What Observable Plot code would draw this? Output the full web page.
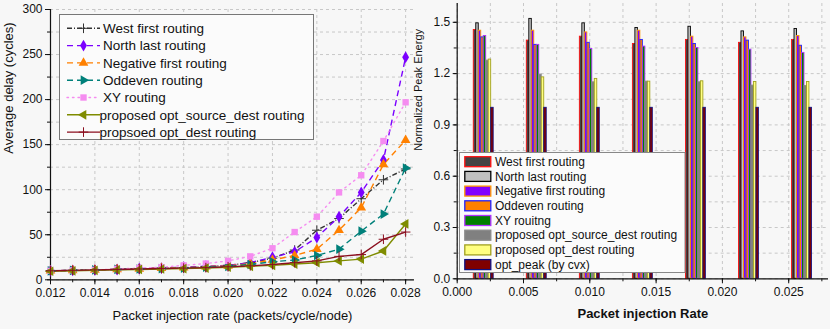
<!DOCTYPE html>
<html><head><meta charset="utf-8">
<script src="https://cdn.jsdelivr.net/npm/d3@7"></script>
<script src="https://cdn.jsdelivr.net/npm/@observablehq/plot@0.6"></script>
<style>
body{margin:0;background:#f7f7f7;font-family:"Liberation Sans",Arial,sans-serif;}
#wrap{position:relative;width:830px;height:329px;overflow:hidden;background:#f7f7f7}
#left{position:absolute;left:0;top:0}
#right{position:absolute;left:410px;top:0}
svg{background:transparent;overflow:visible}
</style></head><body>
<div id="wrap"><div id="right"></div><div id="left"></div></div>
<script>
// ---------- Left chart data ----------
const rates = [0.012,0.013,0.014,0.015,0.016,0.017,0.018,0.019,0.020,0.021,0.022,0.023,0.024,0.025,0.026,0.027,0.028];
const westFirst   = [10,10.5,11,11.5,12,13,13.5,14.5,16,19,24,33,55,68,90,111,123];
const northLast   = [10,10.5,11,11.5,12.5,13,14,15,16,19,25,31,47,70,97,133,247];
const negFirst    = [10,10.5,11,11.5,12,13,13.5,14.5,15.5,18,22,27,34,55,80,128,155];
const oddEven     = [10,10.5,11,11.5,12,12.5,13,14,15,17,20,22,27,34,54,73,124];
const xyRouting   = [10,10.5,11,12,13,14,16,18,21,26,35,53,70,97,116,154,197];
const optSrcDest  = [9.5,10,10.5,11,11.5,12,12.5,13,14,15,16,17.5,19,21,23,32,62];
const optDest     = [10,10.5,11,11.5,12,12.5,13,13.5,14.5,15.5,17,19,21,26,28,45,53];
const lineNames = ["West first routing","North last routing","Negative first routing","Oddeven routing","XY routing","proposed opt_source_dest routing","propsoed opt_dest routing"];
const lineValues = [westFirst,northLast,negFirst,oddEven,xyRouting,optSrcDest,optDest];
const yTicksLeft = [0,50,100,150,200,250,300];
const xTicksLeft = [0.012,0.014,0.016,0.018,0.020,0.022,0.024,0.026,0.028];

// styles
const lineColors = ["#333333","#7b00ff","#ff8000","#00807a","#f58cf0","#7f8c00","#8b0f1f"];
const lineDash = ["5,2,1,2","6,4","6,4","6,4","1.5,4","none","none"];
const lineSym = ["plus","diamond","triangle","triangle","square","triangle","plus"];
const symRot = [0,0,0,90,0,-90,0];
const symFilled = [false,true,true,true,true,true,false];

// ---------- Right chart data ----------
const groups = [0.002,0.006,0.010,0.014,0.018,0.022,0.026];
const eWestFirst = [1.455,1.393,1.416,1.373,1.397,1.380,1.397];
const eNorthLast = [1.494,1.520,1.494,1.467,1.474,1.447,1.461];
const eNegFirst  = [1.451,1.451,1.441,1.451,1.416,1.412,1.420];
const eOddEven   = [1.412,1.368,1.380,1.397,1.373,1.393,1.363];
const eXY        = [1.420,1.368,1.344,1.358,1.350,1.340,1.321];
const eOptSD     = [1.276,1.194,1.149,1.153,1.149,1.130,1.128];
const eOptD      = [1.282,1.178,1.169,1.153,1.155,1.151,1.151];
const ePeak      = [1.0,1.0,1.0,1.0,1.0,1.0,1.0];
const barNames = ["West first routing","North last routing","Negative first routing","Oddeven routing","XY rouitng","proposed opt_source_dest routing","proposed opt_dest routing","opt_peak (by cvx)"];
const barValues = [eWestFirst,eNorthLast,eNegFirst,eOddEven,eXY,eOptSD,eOptD,ePeak];
const yTicksRight = [0,0.3,0.6,0.9,1.2,1.5];
const xTicksRight = [0,0.005,0.010,0.015,0.020,0.025];

const barFill = ["#444444","#c0c0c0","#8000ff","#ff8000","#008000","#808080","#ffff80","#800000"];
const barStroke = ["#ff1010","#000000","#ff9900","#2020ff","#b030ff","#8a8a8a","#a0a020","#101080"];

const FONT = '"Liberation Sans", Arial, sans-serif';

// ---------- Left chart ----------
const rows = [];
lineNames.forEach((n,i)=>lineValues[i].forEach((v,j)=>rows.push({s:i,x:rates[j],y:v})));
const minorX = d3.range(12,29).map(d=>d/1000);
const minorY = d3.range(0,301,25);

const leftMarks = [
  Plot.gridY(minorY,{stroke:"#c8c8c8",strokeOpacity:1,strokeDasharray:"3,3"}),
  Plot.gridX(xTicksLeft,{stroke:"#c8c8c8",strokeOpacity:1,strokeDasharray:"3,3"}),
  Plot.axisX(minorX,{tickSize:3,tickFormat:()=>"" ,stroke:"#111",label:null}),
  Plot.axisX(xTicksLeft,{tickSize:5,tickPadding:4,tickFormat:d3.format(".3f"),fontSize:12,fill:"#111",stroke:"#111",label:null}),
  Plot.axisY(minorY,{tickSize:3,tickFormat:()=>"",stroke:"#111",label:null}),
  Plot.axisY(yTicksLeft,{tickSize:5,tickPadding:3,fontSize:12,fill:"#111",stroke:"#111",label:null}),
  Plot.ruleY([0],{stroke:"#111",strokeWidth:1.2}),
  Plot.ruleX([0.012],{stroke:"#111",strokeWidth:1.2}),
];
lineNames.forEach((n,i)=>{
  const d = rows.filter(r=>r.s===i);
  leftMarks.push(Plot.line(d,{x:"x",y:"y",stroke:lineColors[i],strokeWidth:1.4,strokeDasharray:lineDash[i],strokeLinecap:i===4?"round":"butt"}));
});
const symR = i => lineSym[i]==="plus" ? 3.2 : 3.6;
lineNames.forEach((n,i)=>{
  const d = rows.filter(r=>r.s===i);
  leftMarks.push(Plot.dot(d,{x:"x",y:"y",symbol:lineSym[i],rotate:symRot[i],r:symR(i),
    fill:symFilled[i]?lineColors[i]:"none",stroke:symFilled[i]?"none":lineColors[i],strokeWidth:1}));
});
leftMarks.push(Plot.text(["Packet injection rate (packets/cycle/node)"],{frameAnchor:"bottom",dy:36,fontSize:13,fill:"#111",lineAnchor:"middle"}));
leftMarks.push(Plot.text(["Average delay (cycles)"],{frameAnchor:"left",dx:-42,dy:9,rotate:-90,fontSize:13,fill:"#111",lineAnchor:"middle"}));

const left = Plot.plot({
  width:420,height:329,marginLeft:50,marginRight:6,marginTop:9,marginBottom:49.7,
  style:{background:"transparent",fontFamily:FONT,fontSize:"12px",color:"#111",overflow:"visible"},
  x:{domain:[0.012,0.0284],label:null},y:{domain:[0,300],label:null},
  marks:leftMarks
});
document.getElementById("left").appendChild(left);

// left legend
{
  const svg = d3.select(left);
  const g = svg.append("g").attr("font-family",FONT).attr("font-size",13.5).attr("text-anchor","start");
  g.append("rect").attr("x",59.5).attr("y",14.5).attr("width",254).attr("height",125)
    .attr("fill","#fbfbfb").attr("stroke","#777").attr("stroke-width",1);
  lineNames.forEach((n,i)=>{
    const y = 28.3 + i*17.3;
    g.append("line").attr("x1",67).attr("x2",100).attr("y1",y).attr("y2",y)
      .attr("stroke",lineColors[i]).attr("stroke-width",1.4)
      .attr("stroke-dasharray",lineDash[i]==="none"?null:lineDash[i]).attr("stroke-linecap",i===4?"round":"butt");
    const type = {plus:d3.symbolPlus,diamond:d3.symbolDiamond,triangle:d3.symbolTriangle,square:d3.symbolSquare}[lineSym[i]];
    const r = symR(i);
    g.append("path").attr("d",d3.symbol(type, r*r*Math.PI)())
      .attr("transform",`translate(83.5,${y}) rotate(${symRot[i]})`)
      .attr("fill",symFilled[i]?lineColors[i]:"none").attr("stroke",symFilled[i]?"none":lineColors[i]);
    g.append("text").attr("x",i>=5?99.5:103).attr("y",y).attr("dy","0.35em").attr("fill","#111").text(n);
  });
}

// ---------- Right chart ----------
const bw = 0.0015/8;
const bars = [];
barNames.forEach((n,i)=>barValues[i].forEach((v,j)=>bars.push({s:i,x1:groups[j]-0.00075+i*bw,x2:groups[j]-0.00075+(i+1)*bw,y:v})));
const gridYR = d3.range(0,11).map(d=>d*0.15);
const gridXR = d3.range(0,12).map(d=>d*0.0025);

const rightMarks = [
  Plot.gridY(gridYR,{stroke:"#c8c8c8",strokeOpacity:1,strokeDasharray:"3,3"}),
  Plot.gridX(gridXR,{stroke:"#c8c8c8",strokeOpacity:1,strokeDasharray:"3,3"}),
];
barNames.forEach((n,i)=>{
  rightMarks.push(Plot.rectY(bars.filter(b=>b.s===i),{x1:"x1",x2:"x2",y1:0,y2:"y",fill:barFill[i],stroke:barStroke[i],strokeWidth:0.9}));
});
rightMarks.push(
  Plot.axisX(gridXR,{tickSize:3,tickFormat:()=>"",stroke:"#111",label:null}),
  Plot.axisX(xTicksRight,{tickSize:5,tickPadding:4,tickFormat:d3.format(".3f"),fontSize:12,fill:"#111",stroke:"#111",label:null}),
  Plot.axisY(gridYR,{tickSize:3,tickFormat:()=>"",stroke:"#111",label:null}),
  Plot.axisY(yTicksRight,{tickSize:4,tickPadding:3,tickFormat:d3.format(".1f"),fontSize:12,fill:"#111",stroke:"#111",label:null}),
  Plot.ruleY([0],{stroke:"#111",strokeWidth:1.2}),
  Plot.ruleX([0],{stroke:"#111",strokeWidth:1.2}),
  Plot.text(["Packet injection Rate"],{frameAnchor:"bottom",dy:35,fontSize:13,fontWeight:"bold",fill:"#111",lineAnchor:"middle"}),
  Plot.text(["Normalized Peak Energy"],{frameAnchor:"left",dx:-38.7,dy:9.5,rotate:-90,fontSize:11,fill:"#111",lineAnchor:"middle"})
);
const right = Plot.plot({
  width:420,height:329,marginLeft:46.7,marginRight:2,marginTop:3,marginBottom:50.7,
  style:{background:"transparent",fontFamily:FONT,fontSize:"12px",color:"#111",overflow:"visible"},
  x:{domain:[0,0.028],label:null},y:{domain:[0,1.61],label:null},
  marks:rightMarks
});
document.getElementById("right").appendChild(right);

{
  const svg = d3.select(right);
  const g = svg.append("g").attr("font-family",FONT).attr("font-size",12).attr("text-anchor","start");
  g.append("rect").attr("x",49.5).attr("y",152.5).attr("width",225.5).attr("height",120)
    .attr("fill","#fbfbfb").attr("stroke","#888").attr("stroke-width",1);
  barNames.forEach((n,i)=>{
    const y = 161.7 + i*14.7;
    g.append("rect").attr("x",54.8).attr("y",y-5).attr("width",26).attr("height",10)
      .attr("fill",barFill[i]).attr("stroke",barStroke[i]).attr("stroke-width",1.3);
    g.append("text").attr("x",85).attr("y",y).attr("dy","0.35em").attr("fill","#111").text(n);
  });
}
</script>
</body></html>
